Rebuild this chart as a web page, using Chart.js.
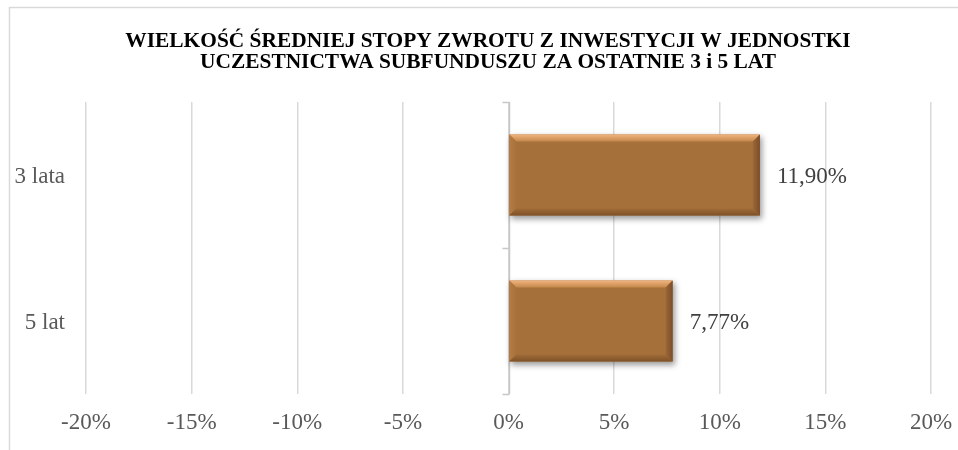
<!DOCTYPE html>
<html>
<head>
<meta charset="utf-8">
<script src="https://cdn.jsdelivr.net/npm/chart.js@4.4.1/dist/chart.umd.min.js"></script>
<style>
  html, body { margin: 0; padding: 0; background: #ffffff; }
  #wrap { width: 958px; height: 450px; position: relative; }
</style>
</head>
<body>
<div id="wrap"><canvas id="c" width="958" height="450"></canvas></div>
<script>
const categories = ['3 lata', '5 lat'];
const values = [11.90, 7.77];
const xTickValues = [-20, -15, -10, -5, 0, 5, 10, 15, 20];
const xTickLabels = ['-20%', '-15%', '-10%', '-5%', '0%', '5%', '10%', '15%', '20%'];
const titleLines = ['WIELKOŚĆ ŚREDNIEJ STOPY ZWROTU Z INWESTYCJI W JEDNOSTKI', 'UCZESTNICTWA SUBFUNDUSZU ZA OSTATNIE 3 i 5 LAT'];

const SERIF = '"Liberation Serif", "Times New Roman", serif';
const BAR = '#A5703A';

function fmt(v) { return v.toFixed(2).replace('.', ',') + '%'; }

const framePlugin = {
  id: 'frame',
  beforeDraw(chart) {
    const ctx = chart.ctx;
    ctx.save();
    ctx.strokeStyle = '#d9d9d9';
    ctx.lineWidth = 1.5;
    ctx.beginPath();
    ctx.moveTo(958, 7.5);
    ctx.lineTo(9.5, 7.5);
    ctx.lineTo(9.5, 450);
    ctx.stroke();
    // title
    ctx.fillStyle = '#000000';
    ctx.font = 'bold 21.4px ' + SERIF;
    ctx.textAlign = 'center';
    ctx.textBaseline = 'middle';
    titleLines.forEach((t, i) => ctx.fillText(t, 488, 41 + i * 21.5));
    ctx.restore();
  }
};

const zeroAxisPlugin = {
  id: 'zeroAxis',
  beforeDatasetsDraw(chart) {
    const ctx = chart.ctx;
    const xs = chart.scales.x, ys = chart.scales.y;
    const x0 = Math.round(xs.getPixelForValue(0)) + 0.5;
    const top = chart.chartArea.top, bottom = chart.chartArea.bottom;
    ctx.save();
    ctx.strokeStyle = '#c8c8c8';
    ctx.lineWidth = 1.5;
    ctx.beginPath();
    ctx.moveTo(x0, top);
    ctx.lineTo(x0, bottom);
    const n = categories.length;
    for (let i = 0; i <= n; i++) {
      let yy;
      if (i === 0) yy = top;
      else if (i === n) yy = bottom;
      else yy = (ys.getPixelForValue(i - 1) + ys.getPixelForValue(i)) / 2;
      yy = Math.round(yy) + 0.5;
      ctx.moveTo(x0 - 7, yy);
      ctx.lineTo(x0, yy);
    }
    ctx.stroke();
    ctx.restore();
    // shadow for bars
    ctx.save();
    ctx.shadowColor = 'rgba(0,0,0,0.4)';
    ctx.shadowBlur = 6;
    ctx.shadowOffsetX = 2;
    ctx.shadowOffsetY = 3;
  },
  afterDatasetsDraw(chart) {
    const ctx = chart.ctx;
    ctx.restore();
    const meta = chart.getDatasetMeta(0);
    meta.data.forEach((el, i) => {
      const p = el.getProps(['x', 'y', 'base', 'height'], true);
      const L = Math.min(p.base, p.x), R = Math.max(p.base, p.x);
      const T = p.y - p.height / 2, B = p.y + p.height / 2;
      const b = 7;
      ctx.save();
      // top bevel
      let g = ctx.createLinearGradient(0, T, 0, T + b);
      g.addColorStop(0, '#F2B47E');
      g.addColorStop(1, '#C4874B');
      ctx.fillStyle = g;
      ctx.beginPath();
      ctx.moveTo(L, T); ctx.lineTo(R, T); ctx.lineTo(R - b, T + b); ctx.lineTo(L + b, T + b); ctx.closePath();
      ctx.fill();
      // left bevel
      g = ctx.createLinearGradient(L, 0, L + b, 0);
      g.addColorStop(0, '#B57B42');
      g.addColorStop(1, '#A8723C');
      ctx.fillStyle = g;
      ctx.beginPath();
      ctx.moveTo(L, T); ctx.lineTo(L + b, T + b); ctx.lineTo(L + b, B - b); ctx.lineTo(L, B); ctx.closePath();
      ctx.fill();
      // right bevel
      g = ctx.createLinearGradient(R - b, 0, R, 0);
      g.addColorStop(0, '#9C6736');
      g.addColorStop(1, '#7A4D2B');
      ctx.fillStyle = g;
      ctx.beginPath();
      ctx.moveTo(R, T); ctx.lineTo(R, B); ctx.lineTo(R - b, B - b); ctx.lineTo(R - b, T + b); ctx.closePath();
      ctx.fill();
      // bottom bevel
      g = ctx.createLinearGradient(0, B - b, 0, B);
      g.addColorStop(0, '#A06B37');
      g.addColorStop(1, '#7E5129');
      ctx.fillStyle = g;
      ctx.beginPath();
      ctx.moveTo(L, B); ctx.lineTo(L + b, B - b); ctx.lineTo(R - b, B - b); ctx.lineTo(R, B); ctx.closePath();
      ctx.fill();
      ctx.restore();
      // label
      ctx.save();
      ctx.font = '23px ' + SERIF;
      ctx.fillStyle = '#404040';
      ctx.textAlign = 'left';
      ctx.textBaseline = 'middle';
      ctx.fillText(fmt(values[i]), R + 17, p.y + 2);
      ctx.restore();
    });
  }
};

new Chart(document.getElementById('c'), {
  type: 'bar',
  data: {
    labels: categories,
    datasets: [{
      data: values,
      backgroundColor: BAR,
      borderWidth: 0,
      barPercentage: 0.555,
      categoryPercentage: 1.0
    }]
  },
  options: {
    indexAxis: 'y',
    responsive: false,
    animation: false,
    devicePixelRatio: 1,
    layout: { padding: { left: 9, right: 27, top: 102, bottom: 0 } },
    plugins: {
      legend: { display: false },
      tooltip: { enabled: false },
      title: { display: false }
    },
    scales: {
      x: {
        type: 'linear',
        min: -20,
        max: 20,
        afterBuildTicks(s) { s.ticks = xTickValues.map(v => ({ value: v })); },
        afterFit(s) { s.height = 56; s.paddingLeft = 0; s.paddingRight = 0; },
        grid: { color: '#d9d9d9', lineWidth: 1.5, drawTicks: false },
        border: { display: false },
        ticks: {
          padding: 15,
          color: '#595959',
          maxRotation: 0,
          font: { family: SERIF, size: 23 },
          callback: (v) => xTickLabels[xTickValues.indexOf(v)]
        }
      },
      y: {
        afterFit(s) { s.width = 77; s.paddingTop = 0; s.paddingBottom = 0; },
        grid: { display: false, drawTicks: false },
        border: { display: false },
        ticks: {
          padding: 21,
          labelOffset: 2,
          color: '#595959',
          font: { family: SERIF, size: 23 }
        }
      }
    }
  },
  plugins: [framePlugin, zeroAxisPlugin]
});
</script>
</body>
</html>
